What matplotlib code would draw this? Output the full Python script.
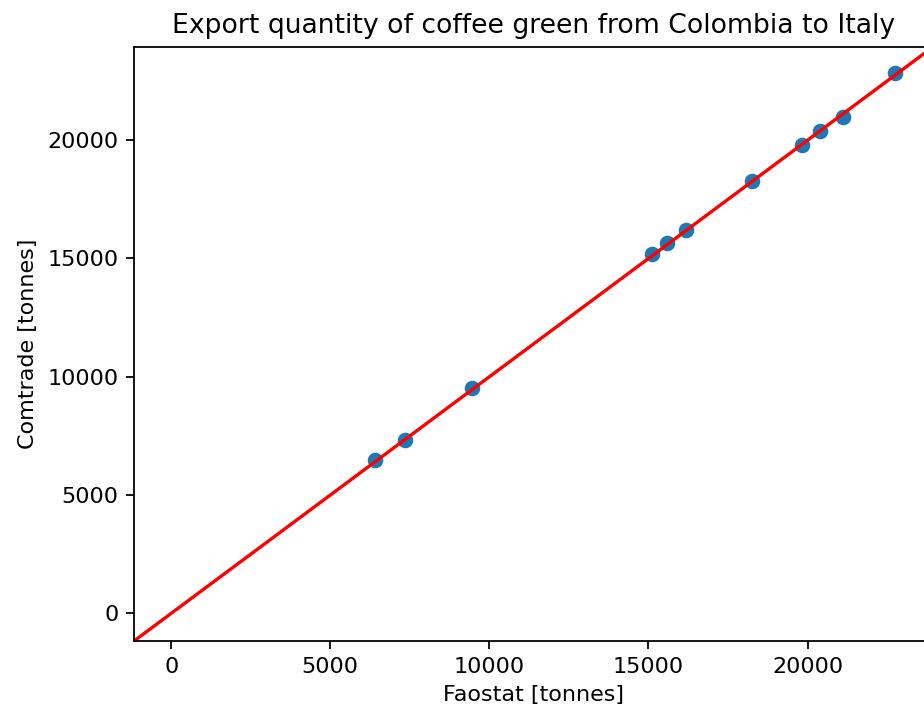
import matplotlib
matplotlib.use("Agg")
import matplotlib.pyplot as plt
import numpy as np

# values
faostat = [6415, 7336, 9465, 15113, 15597, 16173, 18258, 19821, 20386, 21101, 22755]
comtrade = [6461, 7335, 9518, 15190, 15667, 16204, 18286, 19780, 20397, 20988, 22847]
lims = [-1170, 23950]

dpi = 160
fig = plt.figure(figsize=(924 / dpi, 708 / dpi), dpi=dpi)
ax = fig.add_axes([0.145, 0.0946, 0.865, 0.8394])

ax.scatter(faostat, comtrade)
ax.plot(lims, lims, color='red')
ax.set_xlim(lims)
ax.set_ylim(lims)
ax.set_title('Export quantity of coffee green from Colombia to Italy')
ax.set_xlabel('Faostat [tonnes]')
ax.set_ylabel('Comtrade [tonnes]')

fig.savefig('out.png', dpi=dpi)
